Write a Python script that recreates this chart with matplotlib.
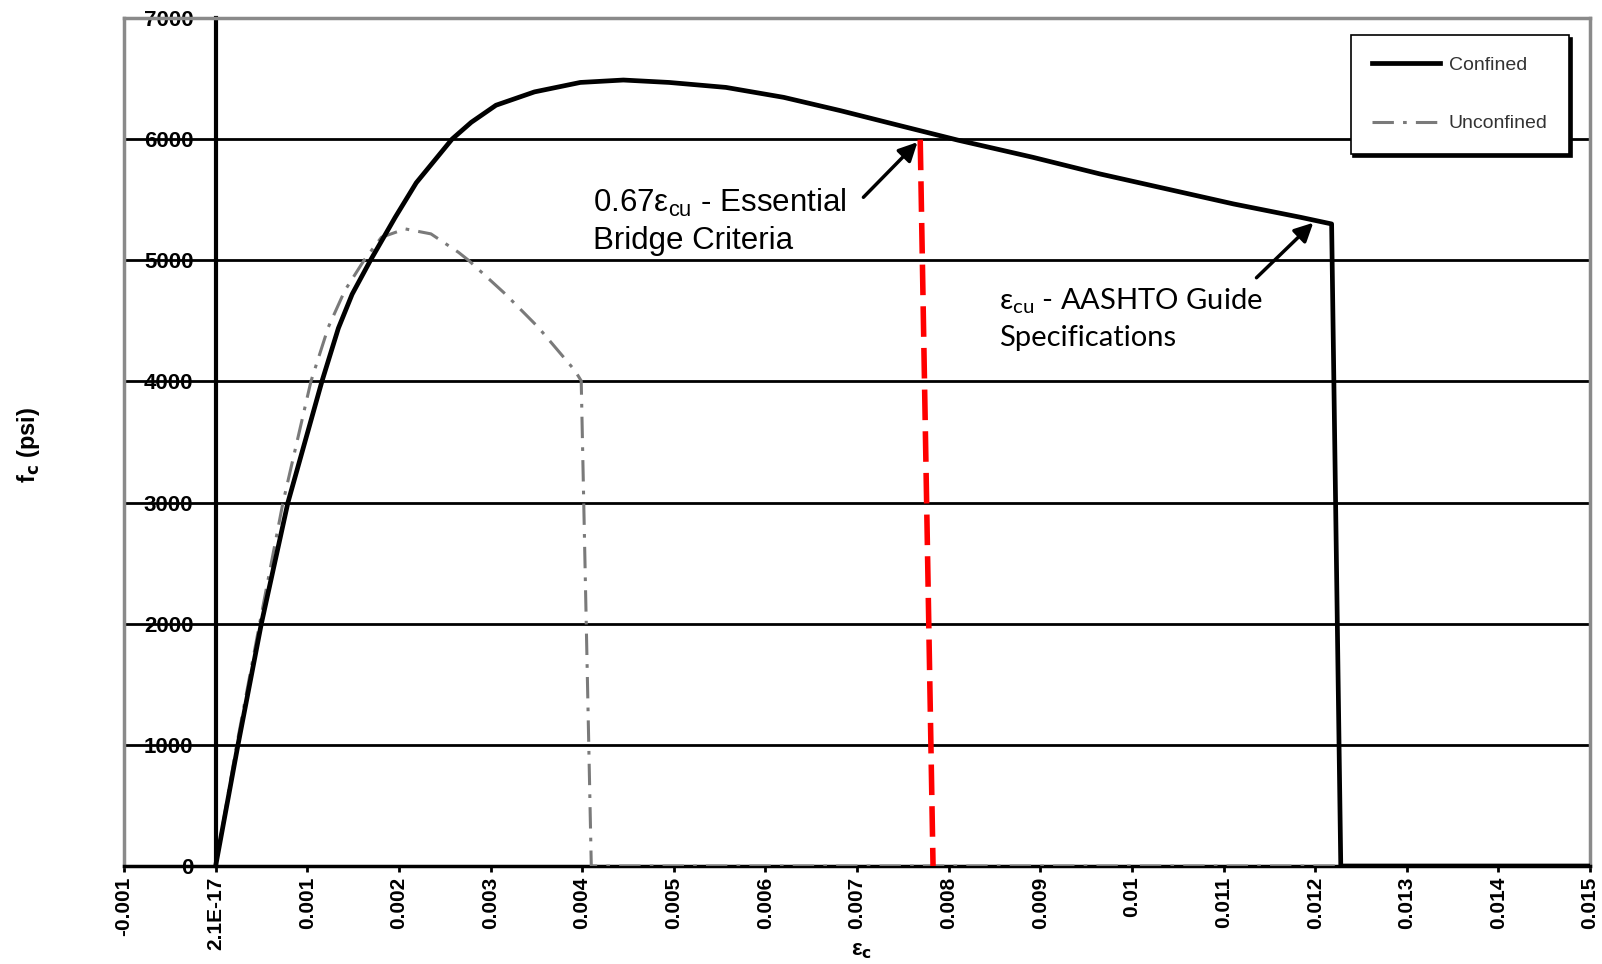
import matplotlib
matplotlib.use("Agg")
import matplotlib.pyplot as plt
from matplotlib.ticker import FixedLocator, FixedFormatter

# ---- data ----
confined_strain = [0.0, 0.000244, 0.000499, 0.000789, 0.00116, 0.00134, 0.00149, 0.00169,
                   0.00196, 0.00219, 0.00258, 0.00279, 0.00306, 0.00348, 0.00398, 0.00445,
                   0.00495, 0.00557, 0.0062, 0.00682, 0.00745, 0.00810, 0.00892, 0.00965,
                   0.01038, 0.01111, 0.01184, 0.01218, 0.01228, 0.015]
confined_stress = [0, 1000, 2000, 3000, 4000, 4440, 4720, 5000,
                   5355, 5640, 6000, 6139, 6280, 6390, 6468, 6488,
                   6468, 6427, 6345, 6235, 6115, 5992, 5850, 5713,
                   5589, 5465, 5355, 5300, 0, 0]

unconfined_strain = [0.0, 0.00023, 0.00048, 0.000735, 0.00104, 0.00123, 0.00141, 0.00162,
                     0.00181, 0.00207, 0.00235, 0.00265, 0.00276, 0.00316, 0.00352, 0.00392,
                     0.00399, 0.0041, 0.0137]
unconfined_stress = [0, 1000, 2000, 3000, 4000, 4448, 4750, 5000,
                     5190, 5259, 5218, 5066, 5000, 4723, 4448, 4091,
                     4005, 0, 0]

criteria_strain = [0.00769, 0.00783]
criteria_stress = [5996, 0]

x_ticks = [-0.001, 0.0, 0.001, 0.002, 0.003, 0.004, 0.005, 0.006, 0.007, 0.008,
           0.009, 0.010, 0.011, 0.012, 0.013, 0.014, 0.015]
x_tick_labels = ["-0.001", "2.1E-17", "0.001", "0.002", "0.003", "0.004", "0.005", "0.006",
                 "0.007", "0.008", "0.009", "0.01", "0.011", "0.012", "0.013", "0.014", "0.015"]
y_ticks = [0, 1000, 2000, 3000, 4000, 5000, 6000, 7000]
y_tick_labels = ["0", "1000", "2000", "3000", "4000", "5000", "6000", "7000"]

ann1_tip = (0.00766, 5975)
ann1_tail = (0.00707, 5520)
ann2_tip = (0.01198, 5310)
ann2_tail = (0.01136, 4856)

# ---- figure ----
plt.rcParams['font.family'] = ['Liberation Sans', 'DejaVu Sans']
fig = plt.figure(figsize=(16.02, 9.64), dpi=100)
ax = fig.add_axes([124/1602, 1-866/964, (1590-124)/1602, (866-18)/964])

ax.set_xlim(-0.001, 0.015)
ax.set_ylim(0, 7000)

ax.plot(unconfined_strain, unconfined_stress, color='#7a7a7a', lw=2.2,
        linestyle=(0, (7, 3, 1.2, 3)), label='Unconfined', zorder=3)
ax.plot(confined_strain, confined_stress, color='black', lw=3.4, label='Confined', zorder=4,
        solid_joinstyle='round')
ax.plot(criteria_strain, criteria_stress, color='#ff0000', lw=4, linestyle=(0, (5.5, 2)), zorder=5)

# grid
ax.yaxis.set_major_locator(FixedLocator(y_ticks))
ax.yaxis.set_major_formatter(FixedFormatter(y_tick_labels))
ax.xaxis.set_major_locator(FixedLocator(x_ticks))
ax.xaxis.set_major_formatter(FixedFormatter(x_tick_labels))
ax.grid(axis='y', color='black', lw=2)
ax.set_axisbelow(True)

# spines
ax.spines['left'].set_position(('data', 0))
ax.spines['left'].set_color('black')
ax.spines['left'].set_linewidth(3)
ax.spines['bottom'].set_color('black')
ax.spines['bottom'].set_linewidth(2.5)
for s in ['top', 'right']:
    ax.spines[s].set_color('#8a8a8a')
    ax.spines[s].set_linewidth(2.5)
ax.plot([0, 0], [0, 1], transform=ax.transAxes, color='#8a8a8a', lw=2.5, clip_on=False, zorder=2)

ax.tick_params(axis='y', length=0, pad=16, labelsize=16)
ax.tick_params(axis='x', direction='out', length=4.5, width=2, pad=3, labelsize=15,
               labelrotation=90)
for lab in ax.get_xticklabels() + ax.get_yticklabels():
    lab.set_fontweight('bold')

ax.set_ylabel(r'f$_\mathbf{c}$ (psi)', fontsize=17, fontweight='bold')
ax.yaxis.set_label_coords(-0.056, 0.496)
ax.set_xlabel(r'ε$_\mathbf{c}$', fontsize=16, fontweight='bold')
ax.xaxis.set_label_coords(0.503, -0.087)

# annotations
ax.text(0.00412, 5320, "0.67ε$_{\\mathregular{cu}}$ - Essential\nBridge Criteria",
        fontsize=22.5, ha='left', va='center', linespacing=1.32, color='black')
ax.annotate('', xy=ann1_tip, xytext=ann1_tail,
            arrowprops=dict(arrowstyle='-|>', lw=2.5, color='black', mutation_scale=28,
                            shrinkA=0, shrinkB=0))
ax.text(0.00855, 4520, "ε$_{\\mathregular{cu}}$ - AASHTO Guide\nSpecifications",
        fontsize=21, ha='left', va='center', linespacing=1.42, color='black',
        family=['Lato', 'DejaVu Sans'])
ax.annotate('', xy=ann2_tip, xytext=ann2_tail,
            arrowprops=dict(arrowstyle='-|>', lw=2.5, color='black', mutation_scale=28,
                            shrinkA=0, shrinkB=0))

# legend
h, l = ax.get_legend_handles_labels()
order = [1, 0]
leg = ax.legend([h[i] for i in order], [l[i] for i in order], loc='upper right',
                bbox_to_anchor=(0.9857, 0.980), borderaxespad=0, fontsize=14,
                handlelength=3.5, handletextpad=0.45, labelspacing=2.1, borderpad=1.1,
                fancybox=False, framealpha=1, edgecolor='black',
                shadow={'color': 'black', 'alpha': 1, 'ox': 2, 'oy': -2})
leg.get_frame().set_linewidth(1.2)
leg.set_zorder(10)
for t in leg.get_texts():
    t.set_color('#333333')

fig.savefig('out.png', dpi=100)
